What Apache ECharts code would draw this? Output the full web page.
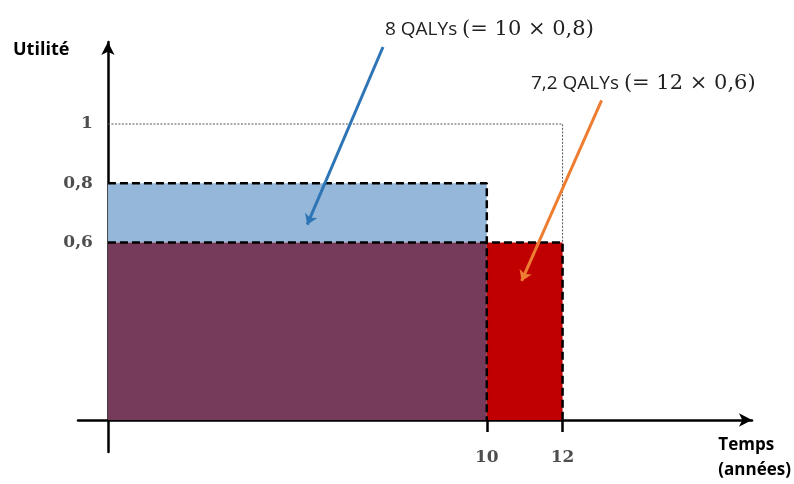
<!DOCTYPE html>
<html><head><meta charset="utf-8">
<script src="https://cdn.jsdelivr.net/npm/echarts@6/dist/echarts.min.js"></script>
<style>html,body{margin:0;padding:0;background:#fff}#c{width:794px;height:484px}</style>
</head><body><div id="c"></div>
<script>
// Data
const years = [10, 12];            // durations (years) for the two scenarios
const utilities = [0.8, 0.6];      // utility levels of the two scenarios
const maxUtility = 1;
const yTickValues = [0.6, 0.8, 1];
const xTickValues = [10, 12];
const annotations = ['8 QALYs', '7,2 QALYs'];

const rects = [
  { v: [0, years[0], utilities[1], utilities[0]], color: '#95B7DA' },
  { v: [0, years[0], 0, utilities[1]], color: '#763B5A' },
  { v: [years[0], years[1], 0, utilities[1]], color: '#C00000' }
];
const dashedPaths = [
  [[0, utilities[0]], [years[0], utilities[0]], [years[0], 0]],
  [[0, utilities[1]], [years[1], utilities[1]], [years[1], 0]]
];
const dottedPath = [[0, maxUtility], [years[1], maxUtility], [years[1], utilities[1]]];

const chart = echarts.init(document.getElementById('c'));
const serif = '"DejaVu Serif", "Liberation Serif", serif';
const fmt = v => String(v).replace('.', ',');
const tickLabelStyle = { color: '#222', fontFamily: serif, fontWeight: 'bold', fontSize: 17 };
chart.setOption({
  animation: false,
  grid: { left: 78, right: 42, top: 42, bottom: 32 },
  xAxis: {
    type: 'value', min: -0.79, max: 17,
    splitLine: { show: false },
    axisLine: { show: true, onZero: true, lineStyle: { color: '#000', width: 2.5 }, symbol: ['none', 'arrow'], symbolSize: [10, 13] },
    axisTick: { show: true, customValues: xTickValues, length: 12, lineStyle: { color: '#000', width: 2.5 } },
    axisLabel: { show: false }
  },
  yAxis: {
    type: 'value', min: -0.108, max: 1.277,
    splitLine: { show: false },
    axisLine: { show: true, onZero: true, lineStyle: { color: '#000', width: 2.5 }, symbol: ['none', 'arrow'], symbolSize: [10, 13] },
    axisTick: { show: false },
    axisLabel: { show: false }
  },
  series: [
    {
      type: 'custom', z: 1,
      data: rects.map(r => ({ value: r.v })),
      renderItem: (params, api) => {
        const p0 = api.coord([api.value(0), api.value(3)]);
        const p1 = api.coord([api.value(1), api.value(2)]);
        return { type: 'rect', shape: { x: p0[0], y: p0[1], width: p1[0] - p0[0], height: p1[1] - p0[1] },
          style: { fill: rects[params.dataIndex].color } };
      }
    },
    {
      type: 'line', z: 3, data: dottedPath, symbol: 'none',
      lineStyle: { color: '#555', width: 1, type: [2, 1.5] }
    },
    ...dashedPaths.map(p => ({
      type: 'line', z: 4, data: p, symbol: 'none',
      lineStyle: { color: '#000', width: 2.5, type: [8, 4] }
    })),
    {
      type: 'scatter', z: 6, symbolSize: 0, silent: true,
      data: xTickValues.map(v => [v, 0]),
      label: Object.assign({ show: true, position: 'bottom', distance: 29, formatter: p => String(p.value[0]) }, tickLabelStyle)
    },
    {
      type: 'scatter', z: 6, symbolSize: 0, silent: true,
      data: yTickValues.map(v => [0, v]),
      label: Object.assign({ show: true, position: 'left', distance: 15, formatter: p => fmt(p.value[1]) }, tickLabelStyle)
    },
    {
      type: 'lines', coordinateSystem: 'cartesian2d', z: 5,
      symbol: ['none', 'arrow'], symbolSize: 10,
      data: [
        { coords: [[7.26, 1.26], [5.26, 0.66]], lineStyle: { color: '#2E75B6', width: 3, opacity: 1 } },
        { coords: [[13.03, 1.08], [10.92, 0.47]], lineStyle: { color: '#ED7D31', width: 3, opacity: 1 } }
      ]
    }
  ],
  graphic: [
    { type: 'text', left: 13, top: 41, style: { text: 'Utilité', font: 'bold 18px "Open Sans", sans-serif', fill: '#000' } },
    { type: 'text', right: 3, top: 433, style: { text: 'Temps\n(années)', align: 'right', lineHeight: 25, font: 'bold 17px "Open Sans", sans-serif', fill: '#000' } },
    { type: 'text', left: 385, top: 19, style: { rich: {
        a: { fontFamily: '"Open Sans", sans-serif', fontSize: 19, fill: '#222' },
        b: { fontFamily: serif, fontSize: 21, fill: '#222' } },
        text: '{a|' + annotations[0] + ' }{b|(= ' + years[0] + ' × ' + fmt(utilities[0]) + ')}' } },
    { type: 'text', left: 531, top: 73, style: { rich: {
        a: { fontFamily: '"Open Sans", sans-serif', fontSize: 19, fill: '#222' },
        b: { fontFamily: serif, fontSize: 21, fill: '#222' } },
        text: '{a|' + annotations[1] + ' }{b|(= ' + years[1] + ' × ' + fmt(utilities[1]) + ')}' } }
  ]
});
</script></body></html>
